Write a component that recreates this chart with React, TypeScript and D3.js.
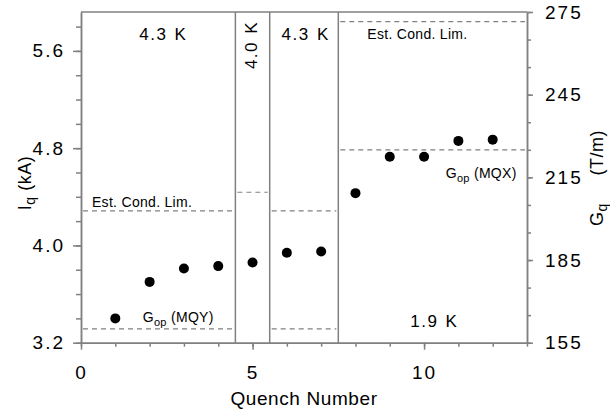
import * as d3 from "d3";
import { useEffect, useRef } from "react";

// quench data
const quench = [1, 2, 3, 4, 5, 6, 7, 8, 9, 10, 11, 12];
const currentKA = [3.4, 3.7, 3.81, 3.83, 3.86, 3.94, 3.95, 4.43, 4.73, 4.73, 4.86, 4.87];

// temperature regions (bounded by quench number)
const regionEdges = [0, 4.5, 5.5, 7.5, 13];
const regionTemps = ["4.3 K", "4.0 K", "4.3 K", "1.9 K"];
const regionLabelX = [2.4, 4.95, 6.55, 10.3];

// limits in T/m (right axis), null = not drawn
const condLimitTm = [202.8, 209.6, 202.8, 271.5];
const gopTm: (number | null)[] = [160, null, 160, 225];

const leftTicks = [3.2, 4.0, 4.8, 5.6];
const rightTicks = [155, 185, 215, 245, 275];
const xTicks = [0, 5, 10];

const W = 610;
const H = 412;
const margin = { top: 12, right: 83, bottom: 69.3, left: 81 };
const FONT = "'Liberation Sans', Arial, sans-serif";
const GRAY = "#808080";

const App = () => {
  const svgRef = useRef<SVGSVGElement | null>(null);

  useEffect(() => {
    const svg = d3.select(svgRef.current);
    svg.selectAll("*").remove();

    const x = d3.scaleLinear().domain([0, 13]).range([margin.left, W - margin.right]);
    const yL = d3.scaleLinear().domain([3.2, 5.92]).range([H - margin.bottom, margin.top]);
    const yR = d3.scaleLinear().domain([155, 275]).range([H - margin.bottom, margin.top]);

    const styleAxis = (g: any) => {
      g.selectAll("path, line").attr("stroke", GRAY).attr("stroke-width", 1.5);
      g.selectAll("text")
        .attr("fill", "#000")
        .style("font-family", FONT)
        .style("font-size", "19px")
        .style("letter-spacing", "2px");
    };

    // minor ticks
    const xMinor = d3.range(0, 14, 1);
    const lMinor = d3.range(3.2, 5.9, 0.2);
    const rMinor = d3.range(155, 276, 10);

    svg.append("g")
      .attr("transform", `translate(0,${yL.range()[0]})`)
      .call(d3.axisBottom(x).tickValues(xMinor).tickSize(4).tickSizeOuter(0).tickFormat(() => ""))
      .call(styleAxis);
    svg.append("g")
      .attr("transform", `translate(0,${yL.range()[0]})`)
      .call(d3.axisBottom(x).tickValues(xTicks).tickSize(7).tickSizeOuter(0).tickPadding(16).tickFormat(d3.format("d")))
      .call(styleAxis);

    svg.append("g")
      .attr("transform", `translate(${margin.left},0)`)
      .call(d3.axisLeft(yL).tickValues(lMinor).tickSize(5).tickSizeOuter(0).tickFormat(() => ""))
      .call(styleAxis);
    svg.append("g")
      .attr("transform", `translate(${margin.left},0)`)
      .call(d3.axisLeft(yL).tickValues(leftTicks).tickSize(8).tickSizeOuter(0).tickPadding(8).tickFormat(d3.format(".1f")))
      .call(styleAxis);

    svg.append("g")
      .attr("transform", `translate(${W - margin.right},0)`)
      .call(d3.axisRight(yR).tickValues(rMinor).tickSize(4).tickSizeOuter(0).tickFormat(() => ""))
      .call(styleAxis);
    svg.append("g")
      .attr("transform", `translate(${W - margin.right},0)`)
      .call(d3.axisRight(yR).tickValues(rightTicks).tickSize(6).tickSizeOuter(0).tickPadding(12).tickFormat(d3.format("d")))
      .call(styleAxis);

    // top frame
    svg.append("line")
      .attr("x1", x(0)).attr("x2", x(13))
      .attr("y1", yL(5.92)).attr("y2", yL(5.92))
      .attr("stroke", GRAY).attr("stroke-width", 1.5);

    // region separators
    svg.selectAll("line.sep")
      .data(regionEdges.slice(1, -1))
      .enter()
      .append("line")
      .attr("class", "sep")
      .attr("x1", d => x(d)).attr("x2", d => x(d))
      .attr("y1", yL.range()[1]).attr("y2", yL.range()[0])
      .attr("stroke", GRAY).attr("stroke-width", 1.5);

    // dashed limit lines
    const regions = regionTemps.map((t, i) => ({
      x0: regionEdges[i], x1: regionEdges[i + 1], cond: condLimitTm[i], gop: gopTm[i]
    }));
    const dashed = svg.append("g")
      .attr("stroke", GRAY).attr("stroke-width", 1.2).attr("stroke-dasharray", "5,4");
    regions.forEach(r => {
      dashed.append("line")
        .attr("x1", x(r.x0) + 2).attr("x2", x(r.x1) - 2)
        .attr("y1", yR(r.cond)).attr("y2", yR(r.cond));
      if (r.gop != null) {
        dashed.append("line")
          .attr("x1", x(r.x0) + 2).attr("x2", x(r.x1) - 2)
          .attr("y1", yR(r.gop)).attr("y2", yR(r.gop));
      }
    });

    // temperature labels
    regionTemps.forEach((t, i) => {
      const txt = svg.append("text")
        .text(t)
        .attr("text-anchor", "middle")
        .style("font-family", FONT)
        .style("font-size", "17px")
        .style("letter-spacing", "1.5px")
        .style("word-spacing", "1px");
      if (i === 1) {
        txt.attr("transform", `translate(${x(regionLabelX[i]) + 6},45) rotate(-90)`);
      } else if (i === 3) {
        txt.attr("x", x(regionLabelX[i])).attr("y", yR(160) - 2);
      } else {
        txt.attr("x", x(regionLabelX[i])).attr("y", 40);
      }
    });

    // annotations
    const ann = (xx: number, yy: number) =>
      svg.append("text")
        .attr("x", xx).attr("y", yy)
        .style("font-family", FONT)
        .style("font-size", "14px")
        .style("letter-spacing", "0.3px");

    ann(x(0.32), yR(condLimitTm[0]) - 4).text("Est. Cond. Lim.");
    ann(x(7.5) + 29, yR(condLimitTm[3]) + 17).text("Est. Cond. Lim.");

    const gq1 = ann(x(1.8), yR(gopTm[0] as number) - 7);
    gq1.append("tspan").text("G");
    gq1.append("tspan").attr("dy", 4).style("font-size", "11px").text("op");
    gq1.append("tspan").attr("dy", -4).text(" (MQY)");

    const gq2 = ann(x(10.63), yR(gopTm[3] as number) + 28);
    gq2.append("tspan").text("G");
    gq2.append("tspan").attr("dy", 4).style("font-size", "11px").text("op");
    gq2.append("tspan").attr("dy", -4).text(" (MQX)");

    // data points
    svg.selectAll("circle.pt")
      .data(quench)
      .enter()
      .append("circle")
      .attr("class", "pt")
      .attr("cx", d => x(d))
      .attr("cy", (d, i) => yL(currentKA[i]))
      .attr("r", 5)
      .attr("fill", "#000");

    // axis titles
    svg.append("text")
      .attr("x", (x(0) + x(13)) / 2).attr("y", 405)
      .attr("text-anchor", "middle")
      .style("font-family", FONT).style("font-size", "19px")
      .style("letter-spacing", "0.6px")
      .text("Quench Number");

    const tl = svg.append("text")
      .attr("transform", `translate(31,183) rotate(-90)`)
      .attr("text-anchor", "middle")
      .style("font-family", FONT).style("font-size", "18px")
      .style("letter-spacing", "0.5px");
    tl.append("tspan").text("I");
    tl.append("tspan").attr("dy", 4).style("font-size", "14px").text("q");
    tl.append("tspan").attr("dy", -4).text("  (kA)");

    const tr = svg.append("text")
      .attr("transform", `translate(603,178) rotate(-90)`)
      .attr("text-anchor", "middle")
      .style("font-family", FONT).style("font-size", "18px")
      .style("letter-spacing", "0.5px");
    tr.append("tspan").text("G");
    tr.append("tspan").attr("dy", 4).style("font-size", "14px").text("q");
    tr.append("tspan").attr("dy", -4).style("white-space", "pre").text("     (T/m)");
  }, []);

  return (
    <svg
      ref={svgRef}
      width={W}
      height={H}
      style={{ position: "absolute", left: 0, top: 0, background: "#fff" }}
    ></svg>
  );
};

export default App;
